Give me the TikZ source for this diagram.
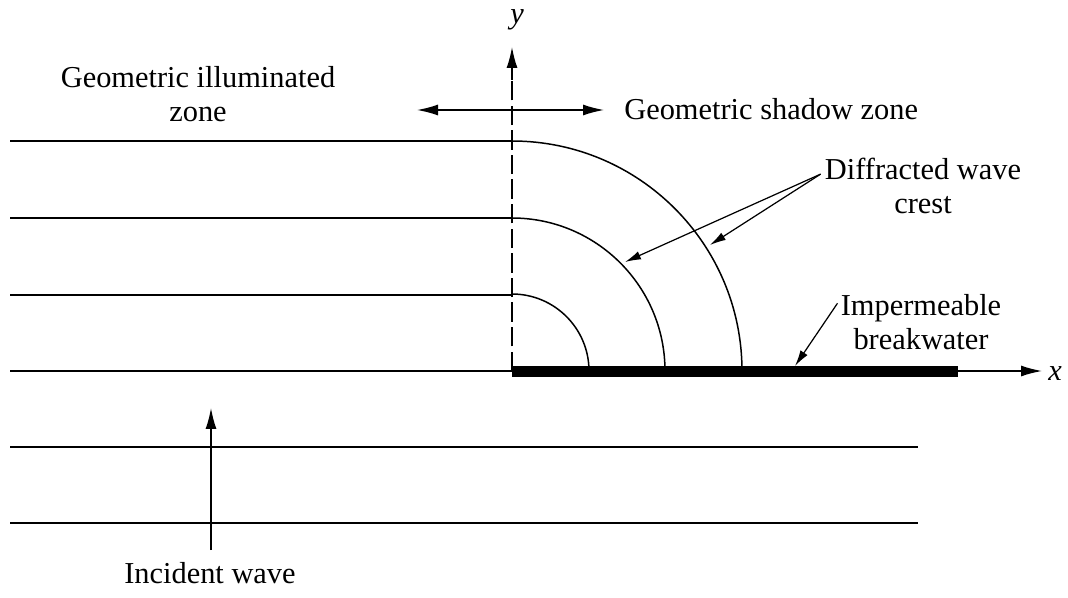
\documentclass[tikz,border=0pt]{standalone}
\usepackage{fontspec}
\setmainfont{Liberation Serif}
\usetikzlibrary{arrows.meta,positioning,calc}

\begin{document}
\begin{tikzpicture}[
  x=0.02cm,y=-0.02cm,
  lbl/.style={align=center,inner sep=0pt,font=\fontsize{17.3}{19}\selectfont},
  crestline/.style={line width=0.85pt},
  arr/.style={-{Latex[length=4.2mm,width=2.2mm]},line width=0.85pt},
  sarr/.style={-{Latex[length=3.2mm,width=1.7mm]},line width=0.7pt}
]
\useasboundingbox (0,0) rectangle (1068,598);

% axes
\coordinate (O) at (512,371);
\coordinate (ytip) at (512,47);
\coordinate (bwend) at (958,371);
\coordinate (xtip) at (1042,371);
\node[lbl,font=\fontsize{17.3}{19}\selectfont\itshape] (ylab) at (517,20) {y};
\node[lbl,font=\fontsize{17.3}{19}\selectfont\itshape] (xlab) at (1055,374) {x};
\draw[line width=0.85pt,dash pattern=on 11pt off 3pt] (O) -- (512,75);
\draw[arr] (512,80) -- (ytip);
\fill (512,366) rectangle (bwend |- 0,377);
\draw[arr] (bwend) -- (xtip);

% incident crests
\foreach \yy in {141,218,295} \draw[crestline] (10,\yy) -- (512,\yy);
\draw[crestline] (10,371) -- (O);
\foreach \yy in {447,523} \draw[crestline] (10,\yy) -- (918,\yy);

% diffracted crests
\foreach \rr in {77,153,230}
  \draw[crestline] (512,371-\rr) arc[start angle=-90,end angle=0,radius=\rr];

% zones
\coordinate (zl) at (417,110);
\coordinate (zr) at (604,110);
\draw[{Latex[length=4.2mm,width=2.2mm]}-{Latex[length=4.2mm,width=2.2mm]},line width=0.85pt] (zl) -- (zr);
\node[lbl] (illum) at (198,94) {Geometric illuminated\\zone};
\node[lbl,anchor=west] (shadow) at (624,109) {Geometric shadow zone};

% labels
\node[lbl] (diffr) at (923,186) {Diffracted wave\\crest};
\coordinate (tipmid) at (625,262);
\coordinate (tipout) at (710,245);
\draw[sarr] ($(diffr.north west)+(-4,16)$) -- (tipmid);
\draw[sarr] ($(diffr.north west)+(-4,16)$) -- (tipout);

\node[lbl] (brkw) at (921,322) {Impermeable\\breakwater};
\coordinate (tipbw) at (795,366);
\draw[sarr] ($(brkw.north west)+(-3,9)$) -- (tipbw);

\node[lbl] (incid) at (210,573) {Incident wave};
\draw[arr] (211,550) -- (211,408);
\end{tikzpicture}
\end{document}
